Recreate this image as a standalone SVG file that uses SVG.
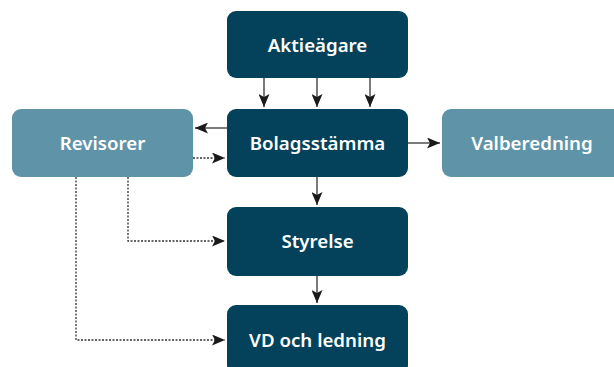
<svg xmlns="http://www.w3.org/2000/svg" width="614" height="367" viewBox="0 0 614 367">
<style>
.dark{fill:#03425a}
.light{fill:#5f93a8}
.t{fill:#fff;font-family:"Noto Sans","Open Sans",sans-serif;font-weight:600;font-size:18.7px;text-anchor:middle}
.c{stroke:#333;stroke-width:1.3;fill:none}
.d{stroke:#333;stroke-width:1.3;fill:none;stroke-dasharray:2 1.5}
</style>
<defs>
<marker id="ah" viewBox="0 0 13 11" refX="13" refY="5.5" markerWidth="13" markerHeight="11" markerUnits="userSpaceOnUse" orient="auto">
<path d="M0,0 L13,5.5 L0,11 L3,5.5 Z" fill="#1a1a1a"/>
</marker>
</defs>
<g id="connectors">
<line class="c" x1="264" y1="78" x2="264" y2="107" marker-end="url(#ah)"/>
<line class="c" x1="317" y1="78" x2="317" y2="107" marker-end="url(#ah)"/>
<line class="c" x1="370" y1="78" x2="370" y2="107" marker-end="url(#ah)"/>
<line class="c" x1="227" y1="128" x2="195" y2="128" marker-end="url(#ah)"/>
<line class="d" x1="193" y1="158" x2="225" y2="158" marker-end="url(#ah)"/>
<line class="c" x1="408" y1="143" x2="440" y2="143" marker-end="url(#ah)"/>
<line class="c" x1="317" y1="177" x2="317" y2="205" marker-end="url(#ah)"/>
<line class="c" x1="317" y1="276" x2="317" y2="303" marker-end="url(#ah)"/>
<polyline class="d" points="128,177 128,241 225,241" marker-end="url(#ah)"/>
<polyline class="d" points="76,177 76,340 225,340" marker-end="url(#ah)"/>
</g>
<g id="aktieagare">
<rect class="dark" x="227" y="11" width="181" height="67" rx="9"/>
<text class="t" x="317.5" y="52">Aktieägare</text>
</g>
<g id="bolagsstamma">
<rect class="dark" x="227" y="109" width="181" height="68" rx="9"/>
<text class="t" x="317.5" y="150">Bolagsstämma</text>
</g>
<g id="revisorer">
<rect class="light" x="12" y="109" width="181" height="68" rx="9"/>
<text class="t" x="102.5" y="150">Revisorer</text>
</g>
<g id="valberedning">
<rect class="light" x="442" y="109" width="182" height="68" rx="9"/>
<text class="t" x="532" y="150">Valberedning</text>
</g>
<g id="styrelse">
<rect class="dark" x="227" y="207" width="181" height="69" rx="9"/>
<text class="t" x="317.5" y="248">Styrelse</text>
</g>
<g id="vd">
<rect class="dark" x="227" y="305" width="181" height="69" rx="9"/>
<text class="t" x="317.5" y="347">VD och ledning</text>
</g>
</svg>
